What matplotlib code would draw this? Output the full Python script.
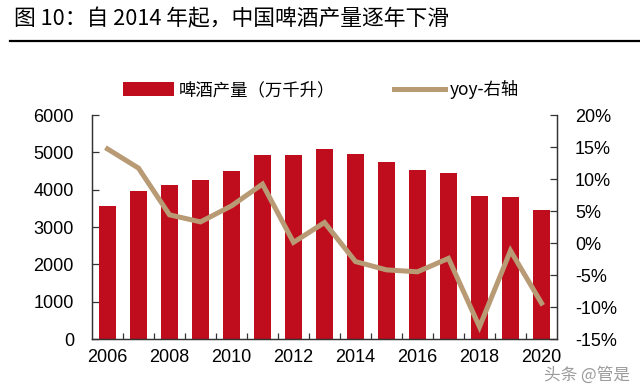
import matplotlib
matplotlib.use("Agg")
import matplotlib.pyplot as plt
from matplotlib.patches import Patch
from matplotlib.lines import Line2D
from matplotlib.ticker import FixedLocator, FuncFormatter

years = list(range(2006, 2021))
production = [3550, 3970, 4130, 4270, 4510, 4930, 4930, 5090, 4960, 4750, 4540, 4440, 3840, 3800, 3460]
yoy = [14.7, 11.7, 4.4, 3.3, 5.8, 9.2, 0.1, 3.2, -2.9, -4.2, -4.5, -2.4, -13.1, -1.2, -9.4]
xtick_years = [2006, 2008, 2010, 2012, 2014, 2016, 2018, 2020]
left_ticks = [0, 1000, 2000, 3000, 4000, 5000, 6000]
right_ticks = [-15, -10, -5, 0, 5, 10, 15, 20]

title = "图 10：自 2014 年起，中国啤酒产量逐年下滑"
bar_label = "啤酒产量（万千升）"
line_label = "yoy-右轴"
watermark = "头条 @管是"

BAR_C = "#C00D1E"
LINE_C = "#B89A74"
CJK = ["Noto Sans CJK SC", "DejaVu Sans"]
LAT = ["Liberation Sans", "Noto Sans CJK SC"]

plt.rcParams['font.family'] = LAT

fig = plt.figure(figsize=(6.4, 3.91), dpi=100)
ax = fig.add_axes([92/640, 1-339/391, (557-92)/640, (339-115)/391])
ax2 = ax.twinx()

ax.bar(years, production, width=0.54, color=BAR_C, zorder=2)
ax2.plot(years, yoy, color=LINE_C, lw=3.6, solid_joinstyle='miter', zorder=3)
ax.set_zorder(1); ax2.set_zorder(2)
ax2.patch.set_visible(False)

ax.set_xlim(2005.5, 2020.5)
ax.set_ylim(0, 6000)
ax2.set_ylim(-15, 20)

ax.set_yticks(left_ticks)
ax2.set_yticks(right_ticks)
ax2.yaxis.set_major_formatter(FuncFormatter(lambda v, p: f"{int(v)}%"))
ax.set_xticks(xtick_years)
ax.set_xticklabels([str(y) for y in xtick_years])
ax.xaxis.set_minor_locator(FixedLocator([y + 0.5 for y in years[:-1]]))

for a in (ax, ax2):
    for s in a.spines.values():
        s.set_color("#333333")
        s.set_linewidth(0.9)
    a.spines['top'].set_visible(False)

ax.tick_params(axis='x', which='major', length=0, pad=7, labelsize=13)
ax.tick_params(axis='x', which='minor', direction='in', length=4, width=0.9, color="#333333")
ax.tick_params(axis='y', direction='in', length=5, width=0.9, color="#333333", pad=13, labelsize=13)
ax2.tick_params(axis='y', direction='in', length=5, width=0.9, color="#333333", pad=13, labelsize=13)

# title and rule
fig.text(14/640, 1-19/391, title, fontsize=15.7, family=CJK, va='center', ha='left')
fig.add_artist(Line2D([10/640, 1.0], [1-41/391, 1-41/391], color='black', lw=1.6))

handles = [Patch(facecolor=BAR_C, edgecolor='none'), Line2D([0], [0], color=LINE_C, lw=3.6)]
leg = fig.legend(handles, [bar_label, line_label], loc='center left',
                 bbox_to_anchor=(123/640, 1-89.5/391), ncol=2, frameon=False,
                 prop={'family': CJK, 'size': 12.5}, handlelength=2.93, handleheight=0.8,
                 handletextpad=0.29, columnspacing=3.4, borderaxespad=0, borderpad=0)

fig.text(587/640, 1-375/391, watermark, fontsize=12, family=CJK, color="#8a8a8a",
         ha='center', va='center', alpha=0.85)

fig.savefig("out.png", dpi=100)
